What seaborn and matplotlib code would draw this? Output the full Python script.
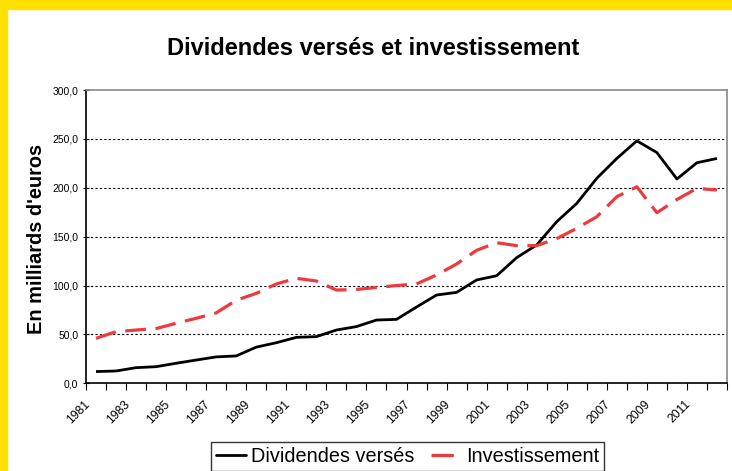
import matplotlib
matplotlib.use("Agg")
import matplotlib.pyplot as plt
from matplotlib.patches import Rectangle
from matplotlib.ticker import FuncFormatter
from matplotlib.transforms import ScaledTranslation
import pandas as pd
import seaborn as sns

# Data (milliards d'euros)
years = list(range(1981, 2013))
dividendes = [12, 12.6, 16, 17, 20.5, 23.8, 27, 28, 37, 41.5, 47, 47.7,
              54.5, 58, 64.7, 65.4, 78, 90.3, 93, 105.7, 110, 128.5, 141.5,
              165.3, 184, 209.7, 230, 248, 236, 209, 225.6, 230]
investissement = [46, 52.8, 54.5, 56, 61.4, 66.5, 72, 85, 92, 101.6, 107.4,
                  104.6, 95.4, 96, 98, 100, 101.6, 110.8, 122, 136, 143.8,
                  140.8, 140.8, 148, 158.5, 170.4, 190.9, 201, 174.5, 188,
                  199.4, 197.7]
series_names = ["Dividendes versés", "Investissement"]

df = pd.DataFrame({"Année": years,
                   series_names[0]: dividendes,
                   series_names[1]: investissement})
long = df.melt(id_vars="Année", var_name="Série", value_name="Valeur")

sns.set_theme(style="white")
plt.rcParams["font.family"] = ["Liberation Sans", "DejaVu Sans"]
for key in ["text.color", "axes.labelcolor", "xtick.color", "ytick.color"]:
    plt.rcParams[key] = "black"

RED = "#EC3A3F"

fig = plt.figure(figsize=(7.32, 4.71), dpi=100)
ax = fig.add_axes([86 / 732, 1 - 383.3 / 471, 641 / 732, 293.3 / 471])

sns.lineplot(data=long, x="Année", y="Valeur", hue="Série", style="Série",
             palette=["black", RED], dashes=[(1, 0), (6.5, 3)],
             ax=ax, legend=False)
ax.lines[0].set_linewidth(2.0)
ax.lines[1].set_linewidth(2.3)

ax.set_xlim(years[0] - 0.5, years[-1] + 0.5)
ax.set_ylim(0, 300)
ax.set_xlabel("")
ax.set_ylabel("")

# y axis
ax.set_yticks(range(0, 301, 50))
ax.yaxis.set_major_formatter(FuncFormatter(lambda v, p: f"{v:.1f}".replace(".", ",")))
ax.tick_params(axis="y", direction="inout", length=5, width=0.8, labelsize=7.5,
               pad=3, left=True)

# x axis: labels at every other year, ticks at category boundaries
ax.set_xticks(years[::2])
ax.set_xticklabels([str(y) for y in years[::2]], rotation=45, ha="right",
                   va="center", rotation_mode="anchor")
ax.set_xticks([y - 0.5 for y in years] + [years[-1] + 0.5], minor=True)
ax.tick_params(axis="x", which="major", length=0, labelsize=8.8, pad=14)
ax.tick_params(axis="x", which="minor", length=5, width=0.8,
               direction="out", bottom=True)
shift = ScaledTranslation(-8 / 100, 0, fig.dpi_scale_trans)
for lab in ax.get_xticklabels():
    lab.set_transform(lab.get_transform() + shift)

# grid
for v in range(50, 300, 50):
    ax.axhline(v, color="black", lw=0.8, ls=(0, (2, 2)), zorder=0)

for side in ["left", "bottom"]:
    ax.spines[side].set_color("black")
    ax.spines[side].set_linewidth(1.2)
ax.spines["right"].set_color("#888888")
ax.spines["right"].set_linewidth(1.2)
ax.spines["top"].set_color("#888888")
ax.spines["top"].set_linewidth(1.2)
ax.spines["top"].set_linestyle((0, (2, 1)))

# titles
fig.text(373 / 732, 1 - 55 / 471, "Dividendes versés et investissement",
         ha="center", va="baseline", fontsize=17, fontweight="bold")
fig.text(36.5 / 732, 1 - 239 / 471, "En milliards d'euros", ha="center",
         va="center", rotation=90, fontsize=14.4, fontweight="bold")

# legend
handles = [plt.Line2D([], [], color="black", lw=2.0),
           plt.Line2D([], [], color=RED, lw=2.3, ls=(0, (7, 3)))]
leg = fig.legend(handles, series_names, ncol=2, loc="upper center",
                 bbox_to_anchor=(407.5 / 732, 1 - 442 / 471), fontsize=14.3,
                 frameon=True, fancybox=False, edgecolor="black",
                 handlelength=1.5, handletextpad=0.26, columnspacing=0.85,
                 borderpad=0.25, borderaxespad=0)
leg.get_frame().set_linewidth(1.0)

# yellow frame on left and top
fig.patches.append(Rectangle((0, 0), 7 / 732, 1, transform=fig.transFigure,
                             color="#FFE000", zorder=10))
fig.patches.append(Rectangle((0, 1 - 9 / 471), 1, 9 / 471,
                             transform=fig.transFigure, color="#FFE000",
                             zorder=10))

fig.savefig("out.png", dpi=100)
